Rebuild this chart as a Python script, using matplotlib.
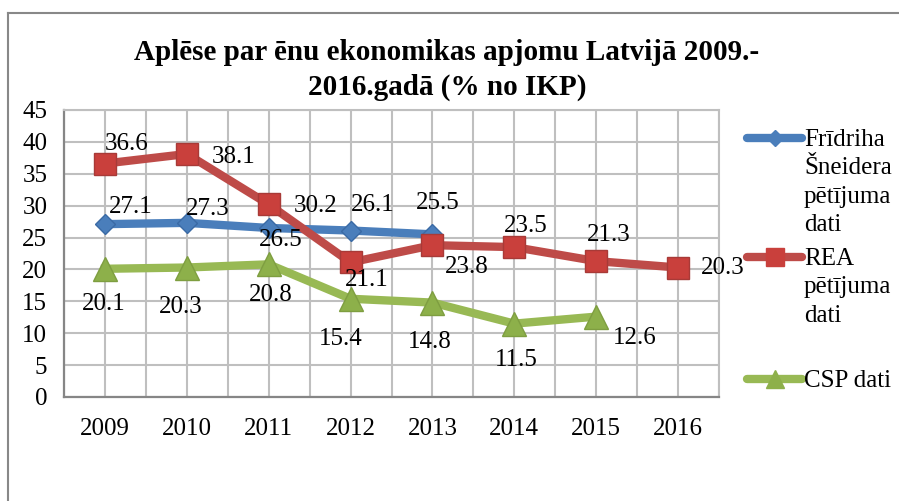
import matplotlib.pyplot as plt
from matplotlib.lines import Line2D
import numpy as np

plt.rcParams['font.family'] = ['Liberation Serif', 'DejaVu Serif']

years = ['2009', '2010', '2011', '2012', '2013', '2014', '2015', '2016']
schneider = [27.1, 27.3, 26.5, 26.1, 25.5]
rea = [36.6, 38.1, 30.2, 21.1, 23.8, 23.5, 21.3, 20.3]
csp = [20.1, 20.3, 20.8, 15.4, 14.8, 11.5, 12.6]

# label offsets in pixels (position only)
off_blue = [(26, -17), (21, -14), (12, 12), (22, -26), (5, -31)]
off_red = [(22, -20), (47, 3), (47, 2), (16, 18), (34, 22), (11, -21), (13, -26), (45, 0)]
off_green = [(-1, 35), (-6, 39), (2, 31), (-10, 40), (-3, 39), (2, 36), (39, 21)]

blue = '#4A7EBB'
red = '#BE4B48'
green = '#98B954'

W, H = 899, 501
fig = plt.figure(figsize=(8.99, 5.01), dpi=100)
ax = fig.add_axes([0.0712, 0.2076, 0.7286, 0.5729])

x = np.arange(len(years))
ax.plot(x[:len(schneider)], schneider, color=blue, lw=6, marker='D', ms=10,
        mfc=blue, mec='#3A6AA5', zorder=3)
ax.plot(x[:len(rea)], rea, color=red, lw=6, marker='s', ms=16,
        mfc='#C9403C', mec='#A83A37', zorder=4)
ax.plot(x[:len(csp)], csp, color=green, lw=6, marker='^', ms=17,
        mfc='#8DB04A', mec='#7E9E40', zorder=3)

def labels(vals, offs):
    for i, (v, o) in enumerate(zip(vals, offs)):
        ax.annotate(f'{v:.1f}', (x[i], v), xytext=(o[0], -o[1]),
                    textcoords='offset pixels', ha='center', va='center',
                    fontsize=18, zorder=5, annotation_clip=False)

labels(schneider, off_blue)
labels(rea, off_red)
labels(csp, off_green)

ax.set_xlim(-0.5, len(years) - 0.5)
ax.set_ylim(0, 45)
ax.set_yticks(np.arange(0, 46, 5))
ax.set_xticks(x)
ax.set_xticklabels(years)
ax.set_xticks(np.arange(-0.5, len(years), 1), minor=True)
ax.grid(True, which='both', axis='x', color='#BFBFBF', lw=1.5)
ax.grid(True, axis='y', color='#BFBFBF', lw=1.5)
ax.set_axisbelow(True)
ax.tick_params(axis='both', which='both', length=0, labelsize=18)
ax.tick_params(axis='x', pad=15)
ax.tick_params(axis='y', pad=12)
for s in ['left', 'bottom']:
    ax.spines[s].set_color('#868686')
    ax.spines[s].set_linewidth(1.6)
for s in ['top', 'right']:
    ax.spines[s].set_color('#BFBFBF')
    ax.spines[s].set_linewidth(1.5)


def text_lines(x0, y0, lines, step, **kw):
    # y0 is the baseline of the first line, in pixels from the top
    for k, line in enumerate(lines):
        fig.text(x0 / W, 1 - (y0 + k * step) / H, line, va='baseline', **kw)


text_lines(447, 60, ['Aplēse par ēnu ekonomikas apjomu Latvijā 2009.-', '2016.gadā (% no IKP)'],
           35, ha='center', fontsize=21, fontweight='bold')

# legend drawn by hand at the right
entries = [(['Frīdriha', 'Šneidera', 'pētījuma', 'dati'], blue, 'D', 8, blue, 138),
           (['REA', 'pētījuma', 'dati'], red, 's', 13, '#C9403C', 257),
           (['CSP dati'], green, '^', 13, '#8DB04A', 379)]
for lines, c, m, ms, mfc, yy in entries:
    fig.add_artist(Line2D([747 / W, 802 / W], [1 - yy / H] * 2, color=c, lw=6,
                          solid_capstyle='round'))
    fig.add_artist(Line2D([774.5 / W], [1 - yy / H], marker=m, ms=ms, color=mfc, lw=0))
    text_lines(804, yy + 8, lines, 28.3, ha='left', fontsize=18)

# outer frame
fig.add_artist(Line2D([8 / W, 8 / W], [0, 1 - 13 / H], color='#888888', lw=1.5))
fig.add_artist(Line2D([8 / W, 1], [1 - 13 / H] * 2, color='#888888', lw=1.5))

fig.savefig('out.png', dpi=100)
